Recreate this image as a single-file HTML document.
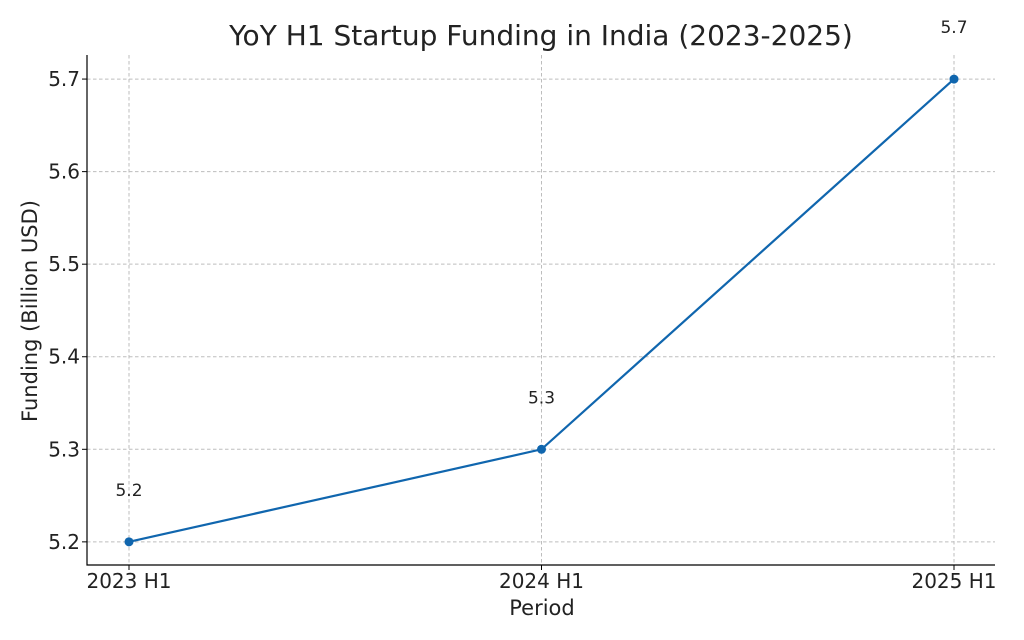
<!DOCTYPE html>
<html><head><meta charset="utf-8"><style>
body{margin:0;background:#fff;}
svg{display:block;font-family:"DejaVu Sans","Liberation Sans",sans-serif;}
</style></head><body>
<svg id="chart" width="1024" height="640"></svg>
<script>
const categories = ["2023 H1","2024 H1","2025 H1"];
const values = [5.2,5.3,5.7];
const yTicks = [5.2,5.3,5.4,5.5,5.6,5.7];
const L=87,R=995,T=55,B=565;
const yMin=5.175,yMax=5.726;
function x(i){return 129+i*412.5;}
function y(v){return B-(v-yMin)/(yMax-yMin)*(B-T);}
const svg=document.getElementById('chart');
const NS='http://www.w3.org/2000/svg';
function mk(t,a,txt){const e=document.createElementNS(NS,t);for(const k in a)e.setAttribute(k,a[k]);if(txt!==undefined)e.textContent=txt;svg.appendChild(e);return e;}
yTicks.forEach(v=>{
 const g=mk('line',{x1:L,x2:R,y1:y(v),y2:y(v),stroke:'#bdbdbd','stroke-dasharray':'3.5,2.5','stroke-width':1});
 
 const tk=mk('line',{x1:L-5,x2:L,y1:y(v),y2:y(v),stroke:'#000'});
 
 const t=mk('text',{x:L-7,y:y(v)+7,'text-anchor':'end','font-size':20,fill:'#222'},v.toFixed(1));
 
});
categories.forEach((c,i)=>{
 const g=mk('line',{x1:x(i),x2:x(i),y1:T,y2:B,stroke:'#bdbdbd','stroke-dasharray':'3.5,2.5','stroke-width':1});
 
 const tk=mk('line',{x1:x(i),x2:x(i),y1:B,y2:B+5,stroke:'#000'});
 
 const t=mk('text',{x:x(i),y:B+23,'text-anchor':'middle','font-size':20,fill:'#222'},c);
 
});
const ax=mk('path',{d:`M${L},${T}V${B}H${R}`,fill:'none',stroke:'#000','stroke-width':1.2});

const ln=mk('polyline',{points:values.map((v,i)=>x(i)+','+y(v)).join(' '),fill:'none',stroke:'#1066ae','stroke-width':2.2});

values.forEach((v,i)=>{
 const p=mk('circle',{cx:x(i),cy:y(v),r:4.5,fill:'#1066ae'});
 
 const t=mk('text',{x:x(i),y:y(v)-46,'text-anchor':'middle','font-size':17,fill:'#222'},v.toFixed(1));
 
});
const ti=mk('text',{x:541,y:45,'text-anchor':'middle','font-size':28,fill:'#222'},'YoY H1 Startup Funding in India (2023-2025)');

const xt=mk('text',{x:542,y:615,'text-anchor':'middle','font-size':21,fill:'#222'},'Period');

const yt=mk('text',{x:37,y:311,'text-anchor':'middle','font-size':21,fill:'#222',transform:'rotate(-90 37 311)'},'Funding (Billion USD)');

</script>
</body></html>
